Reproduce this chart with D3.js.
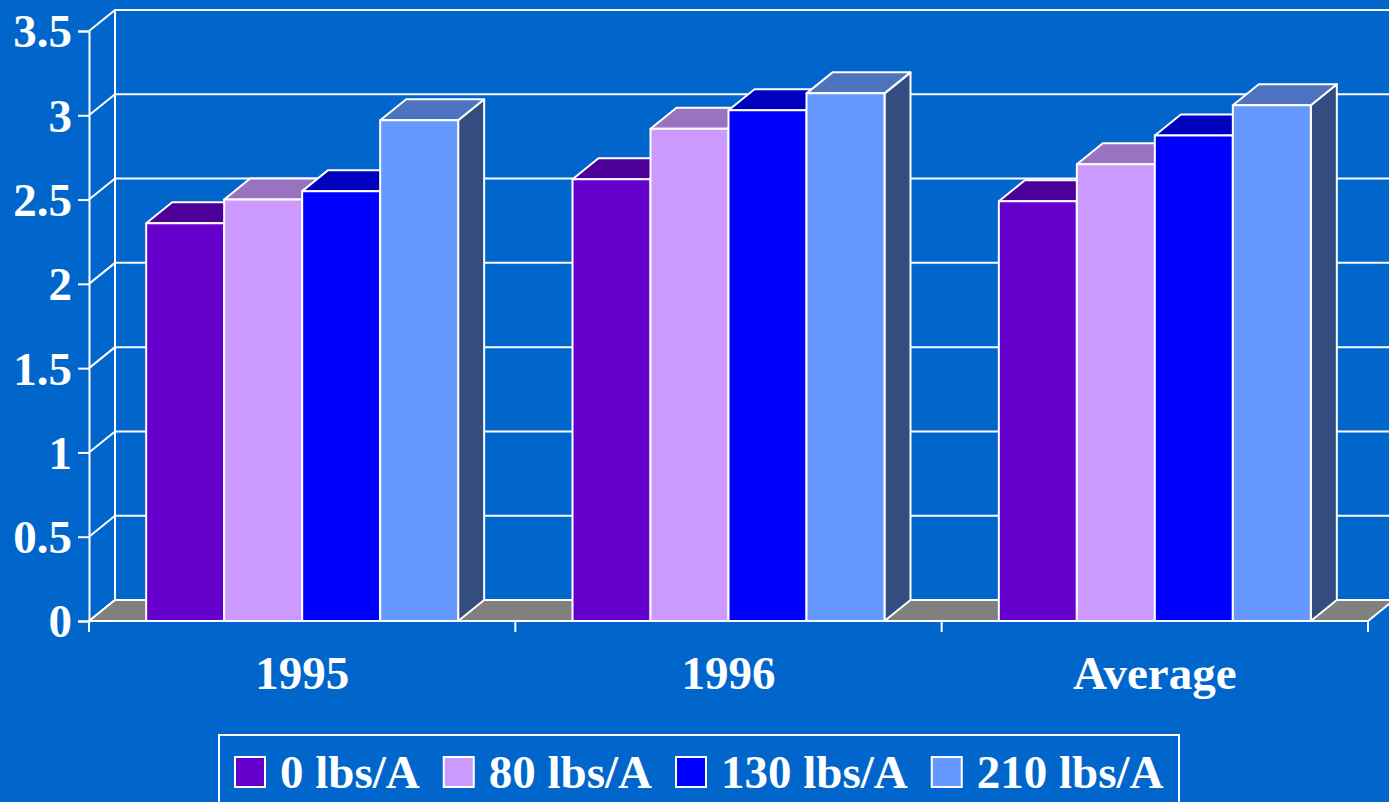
<!DOCTYPE html>
<html>
<head>
<meta charset="utf-8">
<script src="https://cdn.jsdelivr.net/npm/d3@7"></script>
<style>
  html, body { margin: 0; padding: 0; background: #0066CC; overflow: hidden; }
  text { font-family: "Liberation Serif", "Times New Roman", serif; font-weight: bold; fill: #fff; }
</style>
</head>
<body>
<svg id="chart" width="1389" height="802"></svg>
<script>
// data
const categories = ["1995", "1996", "Average"];
const seriesNames = ["0 lbs/A", "80 lbs/A", "130 lbs/A", "210 lbs/A"];
const lbs0   = [2.36, 2.62, 2.49];
const lbs80  = [2.50, 2.92, 2.71];
const lbs130 = [2.55, 3.03, 2.88];
const lbs210 = [2.97, 3.13, 3.06];
const yTicks = [0, 0.5, 1, 1.5, 2, 2.5, 3, 3.5];
const colors = ["#6600CC", "#CC99FF", "#0000FF", "#6699FF"];

const values = [lbs0, lbs80, lbs130, lbs210];

const svg = d3.select("#chart");
const W = 1389, H = 802;
svg.append("rect").attr("width", W).attr("height", H).attr("fill", "#0066CC");

// 3d depth offset
const dx = 26, dy = -21;

const y = d3.scaleLinear().domain([0, 3.5]).range([621, 31]);
const x0 = d3.scaleBand().domain(categories).range([89, 1368]);
const x1 = d3.scaleBand().domain(seriesNames).range([0, x0.bandwidth()]).paddingOuter(0.733);

const pL = x0.range()[0], pR = x0.range()[1];
const pB = y(0), pT = y(3.5);

function shade(c, k) {
  const r = d3.rgb(c);
  return d3.rgb(r.r * k, r.g * k, r.b * k).formatHex();
}

// back wall
svg.append("rect")
  .attr("x", pL + dx).attr("y", pT + dy)
  .attr("width", pR - pL + 40).attr("height", pB - pT)
  .attr("fill", "#0066CC").attr("stroke", "#fff").attr("stroke-width", 2);

// grid lines on back wall + left wall
const grid = svg.append("g").attr("stroke", "#fff").attr("stroke-width", 2);
grid.selectAll(".gb").data(yTicks).join("line")
  .attr("x1", pL + dx).attr("x2", pR + dx + 40)
  .attr("y1", d => y(d) + dy).attr("y2", d => y(d) + dy);
grid.selectAll(".gl").data(yTicks).join("line")
  .attr("x1", pL).attr("x2", pL + dx)
  .attr("y1", d => y(d)).attr("y2", d => y(d) + dy);
grid.append("line").attr("x1", pL + dx).attr("x2", pL + dx).attr("y1", pT + dy).attr("y2", pB + dy);

// floor
svg.append("polygon")
  .attr("points", [[pL, pB], [pL + dx, pB + dy], [pR + dx, pB + dy], [pR, pB]].join(" "))
  .attr("fill", "#808080").attr("stroke", "#fff").attr("stroke-width", 2);

// bars
const bars = svg.append("g").attr("stroke", "#fff").attr("stroke-width", 2).attr("stroke-linejoin", "round");
categories.forEach((cat, ci) => {
  seriesNames.forEach((s, si) => {
    const v = values[si][ci];
    const bx = x0(cat) + x1(s), bw = x1.bandwidth();
    const by = y(v);
    const g = bars.append("g");
    // side face
    g.append("polygon")
      .attr("points", [[bx + bw, by], [bx + bw + dx, by + dy], [bx + bw + dx, pB + dy], [bx + bw, pB]].join(" "))
      .attr("fill", shade(colors[si], 0.5));
    // top face
    g.append("polygon")
      .attr("points", [[bx, by], [bx + dx, by + dy], [bx + bw + dx, by + dy], [bx + bw, by]].join(" "))
      .attr("fill", shade(colors[si], 0.75));
    // front
    g.append("rect")
      .attr("x", bx).attr("y", by).attr("width", bw).attr("height", pB - by)
      .attr("fill", colors[si]);
  });
});

// y axis
const yAxis = svg.append("g")
  .attr("transform", `translate(${pL},0)`)
  .call(d3.axisLeft(y).tickValues(yTicks).tickSize(11).tickPadding(6).tickFormat(d3.format("")));
yAxis.select(".domain").attr("stroke", "#fff").attr("stroke-width", 2);
yAxis.selectAll(".tick line").attr("stroke", "#fff").attr("stroke-width", 2);
yAxis.selectAll(".tick text").attr("font-size", 47).attr("fill", "#fff")
  .attr("font-family", "Liberation Serif, Times New Roman, serif").attr("font-weight", "bold")
  .attr("dy", "0.34em");

// x axis
const xg = svg.append("g").attr("stroke", "#fff").attr("stroke-width", 2);
xg.append("line").attr("x1", pL).attr("x2", pR).attr("y1", pB).attr("y2", pB);
const xTickPos = categories.map(c => x0(c)).concat([pR]);
xg.selectAll(".xt").data(xTickPos).join("line")
  .attr("x1", d => d).attr("x2", d => d).attr("y1", pB).attr("y2", pB + 11);

svg.selectAll(".cat").data(categories).join("text")
  .attr("x", d => x0(d) + x0.bandwidth() / 2)
  .attr("y", 689)
  .attr("text-anchor", "middle")
  .attr("font-size", 47)
  .text(d => d);

// legend
svg.append("rect")
  .attr("x", 219).attr("y", 735).attr("width", 960).attr("height", 80)
  .attr("fill", "none").attr("stroke", "#fff").attr("stroke-width", 2);
let lx = 235;
seriesNames.forEach((s, i) => {
  svg.append("rect")
    .attr("x", lx).attr("y", 757).attr("width", 30).attr("height", 30)
    .attr("fill", colors[i]).attr("stroke", "#fff").attr("stroke-width", 2);
  const t = svg.append("text")
    .attr("x", lx + 45).attr("y", 788)
    .attr("font-size", 47)
    .text(s);
  lx += 45 + t.node().getComputedTextLength() + 24;
});
</script>
</body>
</html>
